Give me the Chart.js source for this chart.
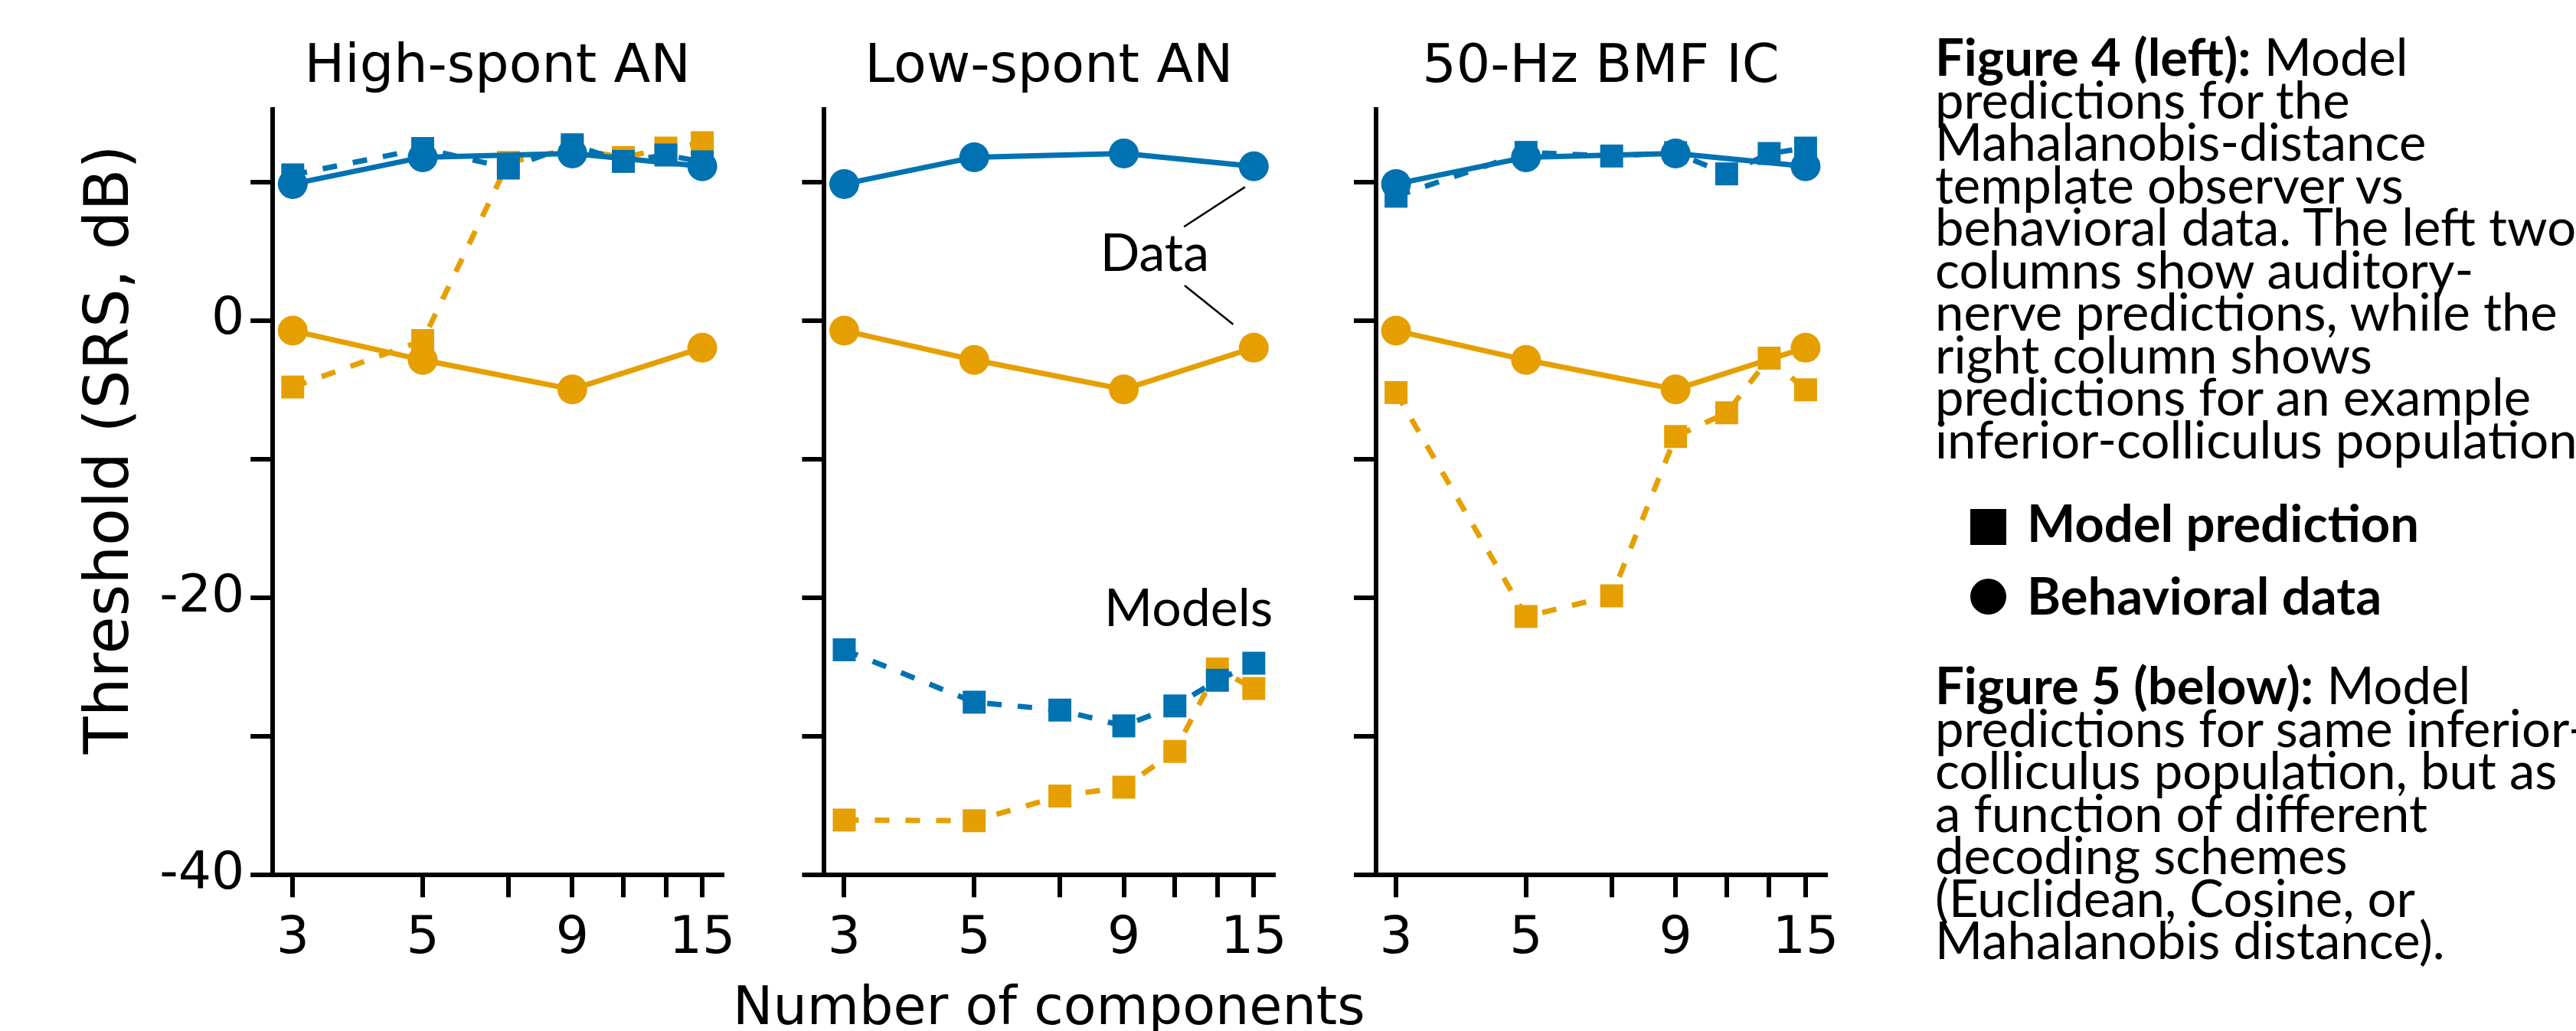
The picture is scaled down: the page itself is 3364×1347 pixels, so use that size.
<!DOCTYPE html>
<html>
<head>
<meta charset="utf-8">
<script src="https://cdn.jsdelivr.net/npm/chart.js@4.4.1/dist/chart.umd.min.js"></script>
<style>
  html, body { margin: 0; padding: 0; background: #fff; overflow: hidden; }
  body { width: 3364px; height: 1347px; position: relative; }
  canvas.panel { position: absolute; top: 0; }
  .caption { position: absolute; left: 2527px; font-family: Lato, sans-serif; font-size: 67px; line-height: 55.5px; white-space: nowrap; color: #000; }
  .legtext { position: absolute; left: 2647px; font-family: Lato, sans-serif; font-weight: bold; font-size: 67px; line-height: 68px; white-space: nowrap; color: #000; }
  .mark { position: absolute; left: 2573px; width: 47px; height: 47px; background: #000; }
</style>
</head>
<body>
<canvas class="panel" id="panel0" width="1100" height="1370" style="left:0px"></canvas>
<canvas class="panel" id="panel1" width="1100" height="1370" style="left:720px"></canvas>
<canvas class="panel" id="panel2" width="1100" height="1370" style="left:1440px"></canvas>

<div class="caption" style="top:46px">
<b>Figure 4 (left):</b> Model<br>
predictions for the<br>
Mahalanobis-distance<br>
template observer vs<br>
behavioral data. The left two<br>
columns show auditory-<br>
nerve predictions, while the<br>
right column shows<br>
predictions for an example<br>
inferior-colliculus population
</div>

<div class="mark" style="top:665px"></div>
<div class="legtext" style="top:648px">Model prediction</div>
<div class="mark" style="top:756px; border-radius:50%"></div>
<div class="legtext" style="top:743px">Behavioral data</div>

<div class="caption" style="top:867px">
<b>Figure 5 (below):</b> Model<br>
predictions for same inferior-<br>
colliculus population, but as<br>
a function of different<br>
decoding schemes<br>
(Euclidean, Cosine, or<br>
Mahalanobis distance).
</div>

<script>
// number of components
const dataComps = [3, 5, 9, 15];
const modelComps = [3, 5, 7, 9, 11, 13, 15];

// behavioral thresholds (same in every panel)
const dataBlue = [9.84, 11.77, 12.04, 11.12];
const dataOrange = [-0.74, -2.85, -4.97, -1.97];

// model predictions per panel
const highSpontBlue = [10.5, 12.4, 10.99, 12.67, 11.47, 11.93, 11.44];
const highSpontOrange = [-4.8, -1.45, 11.4, 12.4, 11.75, 12.43, 12.82];
const lowSpontBlue = [-23.75, -27.53, -28.1, -29.24, -27.8, -25.95, -24.72];
const lowSpontOrange = [-36.03, -36.08, -34.3, -33.66, -31.08, -25.14, -26.54];
const icBlue = [8.96, 12.12, 11.86, 12.1, 10.57, 12.04, 12.43];
const icOrange = [-5.2, -21.35, -19.86, -8.37, -6.66, -2.72, -5.0];

const panelTitles = ["High-spont AN", "Low-spont AN", "50-Hz BMF IC"];
const xTitle = "Number of components";
const yTitle = "Threshold (SRS, dB)";

// axes
const xLimits = [2.7735, 16.225];
const xTicks = [3, 5, 7, 9, 11, 13, 15];
const xTickLabels = [3, 5, 9, 15];
const yLimits = [-40, 15.2];
const yTicks = [-40, -30, -20, -10, 0, 10];
const yTickLabels = [-40, -20, 0];

// annotations in panel 2 (data coordinates)
const annotLabels = [
  { text: "Data", x: 10.16, y: 3.59 },
  { text: "Models", x: 11.61, y: -22.07 }
];
const annotLines = [
  [11.40, 6.76, 14.49, 9.62],
  [11.43, 2.52, 13.83, -0.28]
];

const BLUE = "#0072B2";
const ORANGE = "#E69F00";
const FONT = "DejaVu Sans";

// layout: canvas left is 0/720/1440, plot left edge inside each canvas
const yAxisWidth = [356.2, 356.4, 357];
const plotWidth = 587;
const plotBottom = 1143.3;

const annotPlugin = {
  id: "annot",
  afterDatasetsDraw(chart) {
    if (!chart.options.plugins.annot.show) return;
    const { ctx, scales: { x, y } } = chart;
    ctx.save();
    ctx.strokeStyle = "#000";
    ctx.lineWidth = 2.5;
    annotLines.forEach(l => {
      ctx.beginPath();
      ctx.moveTo(x.getPixelForValue(l[0]), y.getPixelForValue(l[1]));
      ctx.lineTo(x.getPixelForValue(l[2]), y.getPixelForValue(l[3]));
      ctx.stroke();
    });
    ctx.fillStyle = "#000";
    ctx.font = "68px Lato";
    ctx.textAlign = "center";
    ctx.textBaseline = "alphabetic";
    annotLabels.forEach(a => {
      ctx.fillText(a.text, x.getPixelForValue(a.x), y.getPixelForValue(a.y));
    });
    ctx.restore();
  }
};

// axis titles drawn by hand so chart.js does not squeeze them to the plot width
const axisTitlePlugin = {
  id: "axisTitles",
  afterDraw(chart) {
    const opts = chart.options.plugins.axisTitles;
    const { ctx, chartArea } = chart;
    ctx.save();
    ctx.fillStyle = "#000";
    ctx.textAlign = "center";
    if (opts.x) {
      ctx.font = "70px '" + FONT + "'";
      ctx.textBaseline = "alphabetic";
      ctx.fillText(xTitle, (chartArea.left + chartArea.right) / 2, chartArea.bottom + 195);
    }
    if (opts.y) {
      ctx.font = "80px '" + FONT + "'";
      ctx.textBaseline = "middle";
      ctx.translate(146, chartArea.top + 444);
      ctx.rotate(-Math.PI / 2);
      ctx.fillText(yTitle, 0, 0);
    }
    ctx.restore();
  }
};

function points(xs, ys) {
  return xs.map((x, i) => ({ x: x, y: ys[i] }));
}

function makePanel(idx, blueModel, orangeModel) {
  const canvas = document.getElementById("panel" + idx);
  const rightPad = canvas.width - yAxisWidth[idx] - plotWidth;
  const lineDs = (xs, ys, color, style, dashed) => ({
    data: points(xs, ys),
    borderColor: color,
    backgroundColor: color,
    borderWidth: 7,
    borderDash: dashed ? [19, 21] : [],
    pointStyle: style,
    pointRadius: style === "rect" ? 21.2 : 19.5,
    pointBorderWidth: 0,
    pointBackgroundColor: color,
    tension: 0,
    clip: false
  });

  new Chart(canvas, {
    type: "line",
    data: {
      datasets: [
        lineDs(dataComps, dataBlue, BLUE, "circle", false),
        lineDs(dataComps, dataOrange, ORANGE, "circle", false),
        lineDs(modelComps, blueModel, BLUE, "rect", true),
        lineDs(modelComps, orangeModel, ORANGE, "rect", true)
      ]
    },
    plugins: [annotPlugin, axisTitlePlugin],
    options: {
      responsive: false,
      animation: false,
      devicePixelRatio: 1,
      layout: { padding: { left: 0, right: rightPad, top: 0, bottom: 0 } },
      plugins: {
        legend: { display: false },
        tooltip: { enabled: false },
        annot: { show: idx === 1 },
        axisTitles: { x: idx === 1, y: idx === 0 },
        title: {
          display: true,
          text: panelTitles[idx],
          fullSize: false,
          color: "#000",
          font: { family: FONT, size: 70, weight: "normal" },
          padding: { top: 47, bottom: 12.3 }
        }
      },
      scales: {
        x: {
          type: "logarithmic",
          min: xLimits[0],
          max: xLimits[1],
          afterBuildTicks: s => { s.ticks = xTicks.map(v => ({ value: v })); },
          afterFit: s => {
            s.height = canvas.height - plotBottom;
            s.paddingLeft = 0;
            s.paddingRight = 0;
          },
          ticks: {
            autoSkip: false,
            maxRotation: 0,
            minRotation: 0,
            padding: 14,
            color: "#000",
            font: { family: FONT, size: 68 },
            callback: v => xTickLabels.includes(v) ? String(v) : ""
          },
          grid: { drawOnChartArea: false, drawTicks: true, tickLength: 29, lineWidth: 6, color: "#000" },
          border: { display: true, color: "#000", width: 6 },
          title: { display: false }
        },
        y: {
          type: "linear",
          min: yLimits[0],
          max: yLimits[1],
          afterBuildTicks: s => { s.ticks = yTicks.map(v => ({ value: v })); },
          afterFit: s => {
            s.width = yAxisWidth[idx];
            s.paddingTop = 0;
            s.paddingBottom = 0;
          },
          ticks: {
            padding: 8,
            color: "#000",
            font: { family: FONT, size: 68 },
            callback: v => (idx === 0 && yTickLabels.includes(v)) ? String(v) : ""
          },
          grid: { drawOnChartArea: false, drawTicks: true, tickLength: 29, lineWidth: 6, color: "#000" },
          border: { display: true, color: "#000", width: 6 },
          title: { display: false }
        }
      }
    }
  });
}

makePanel(0, highSpontBlue, highSpontOrange);
makePanel(1, lowSpontBlue, lowSpontOrange);
makePanel(2, icBlue, icOrange);
</script>
</body>
</html>
